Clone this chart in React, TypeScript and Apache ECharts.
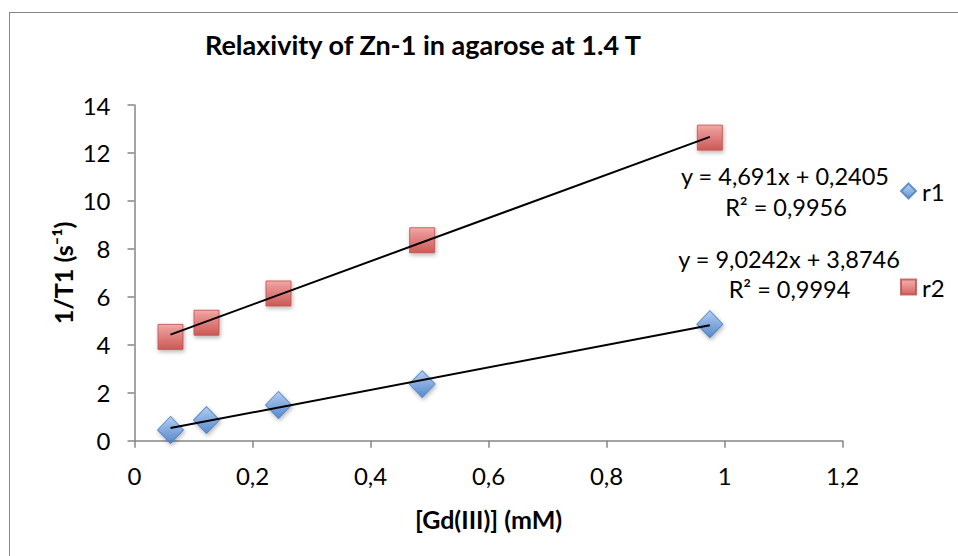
import React, { useEffect, useRef } from "react";
import * as echarts from "echarts";

const concentrations = [0.061, 0.122, 0.244, 0.4875, 0.975];
const r1Values = [0.45, 0.86, 1.49, 2.36, 4.86];
const r2Values = [4.33, 4.92, 6.14, 8.36, 12.64];

const r1Fit = { slope: 4.691, intercept: 0.2405, r2: "0,9956" };
const r2Fit = { slope: 9.0242, intercept: 3.8746, r2: "0,9994" };

const r1EquationLines = ["y = 4,691x + 0,2405", "R² = " + r1Fit.r2];
const r2EquationLines = ["y = 9,0242x + 3,8746", "R² = " + r2Fit.r2];
const yAxisTitle = "1/T1 (s⁻¹)";

const FONT = "Lato, 'Liberation Sans', sans-serif";

function fitLine(fit: { slope: number; intercept: number }) {
  const x0 = concentrations[0];
  const x1 = concentrations[concentrations.length - 1];
  return [
    [x0, fit.slope * x0 + fit.intercept],
    [x1, fit.slope * x1 + fit.intercept],
  ];
}

export default function App() {
  const ref = useRef<HTMLDivElement>(null);
  useEffect(() => {
    if (!ref.current) return;
    document.documentElement.style.overflow = "hidden";
    document.body.style.overflow = "hidden";
    document.body.style.margin = "0";
    const chart = echarts.init(ref.current, undefined, { renderer: "svg" });
    const redGrad = new echarts.graphic.LinearGradient(0, 0, 0, 1, [
      { offset: 0, color: "#f49a98" },
      { offset: 1, color: "#c9403c" },
    ]);
    const blueGrad = new echarts.graphic.LinearGradient(0, 0, 0, 1, [
      { offset: 0, color: "#a7c8f2" },
      { offset: 1, color: "#4079cc" },
    ]);
    const shadow = {
      shadowBlur: 4,
      shadowColor: "rgba(0,0,0,0.35)",
      shadowOffsetY: 2,
      shadowOffsetX: 1,
    };
    const eqText = (text: string, x: number, y: number) => ({
      type: "text",
      x,
      y,
      style: {
        text,
        fill: "#000",
        font: `23.5px ${FONT}`,
        textAlign: "center",
        textVerticalAlign: "middle",
      },
    });
    const legendText = { fontFamily: FONT, fontSize: 24, color: "#000", padding: [0, 0, 0, 1] };
    chart.setOption({
      animation: false,
      backgroundColor: "transparent",
      title: {
        text: "Relaxivity of Zn-1 in agarose at 1.4 T",
        left: 410,
        top: 18,
        textAlign: "center",
        textStyle: { fontFamily: FONT, fontWeight: "bold", fontSize: 27, color: "#000" },
      },
      grid: { left: 126.5, top: 97, right: 115.4, bottom: 115.3, containLabel: false },
      xAxis: {
        type: "value",
        min: 0,
        max: 1.2,
        interval: 0.2,
        name: "[Gd(III)] (mM)",
        nameLocation: "middle",
        nameGap: 66,
        nameTextStyle: { fontFamily: FONT, fontWeight: "bold", fontSize: 25, color: "#000" },
        axisLine: { lineStyle: { color: "#868686", width: 1.5 } },
        axisTick: { show: true, length: 7, lineStyle: { color: "#868686", width: 1.5 } },
        splitLine: { show: false },
        axisLabel: {
          margin: 23,
          fontFamily: FONT,
          fontSize: 24,
          color: "#000",
          formatter: (v: number) => String(Math.round(v * 10) / 10).replace(".", ","),
        },
      },
      yAxis: {
        type: "value",
        min: 0,
        max: 14,
        interval: 2,
        axisLine: { show: true, lineStyle: { color: "#868686", width: 1.5 } },
        axisTick: { show: true, length: 7, lineStyle: { color: "#868686", width: 1.5 } },
        splitLine: { show: false },
        axisLabel: { margin: 24, fontFamily: FONT, fontSize: 24, color: "#000" },
      },
      legend: [
        {
          left: 887,
          top: 166,
          itemWidth: 15,
          itemHeight: 15,
          textStyle: legendText,
          data: [{ name: "r1", icon: "diamond" }],
        },
        {
          left: 887,
          top: 262,
          itemWidth: 15,
          itemHeight: 15,
          textStyle: legendText,
          data: [{ name: "r2", icon: "rect" }],
        },
      ],
      series: [
        {
          name: "r1",
          type: "scatter",
          symbol: "diamond",
          symbolSize: [26, 27],
          data: concentrations.map((x, i) => [x, r1Values[i]]),
          itemStyle: { color: blueGrad, borderColor: "#4a7ebb", borderWidth: 1, ...shadow },
          z: 2,
        },
        {
          name: "r2",
          type: "scatter",
          symbol: "rect",
          symbolSize: [25, 25],
          data: concentrations.map((x, i) => [x, r2Values[i]]),
          itemStyle: { color: redGrad, borderColor: "#be4b48", borderWidth: 1, ...shadow },
          z: 2,
        },
        {
          name: "r1 trend",
          type: "line",
          data: fitLine(r1Fit),
          showSymbol: false,
          symbol: "none",
          lineStyle: { color: "#000", width: 2 },
          z: 5,
        },
        {
          name: "r2 trend",
          type: "line",
          data: fitLine(r2Fit),
          showSymbol: false,
          symbol: "none",
          lineStyle: { color: "#000", width: 2 },
          z: 5,
        },
      ],
      graphic: [
        {
          type: "text",
          x: 55,
          y: 265,
          rotation: Math.PI / 2,
          style: {
            text: yAxisTitle,
            fill: "#000",
            font: `bold 25px ${FONT}`,
            textAlign: "center",
            textVerticalAlign: "middle",
          },
        },
        eqText(r1EquationLines[0], 777, 168),
        eqText(r1EquationLines[1], 778, 199),
        eqText(r2EquationLines[0], 781, 251),
        eqText(r2EquationLines[1], 781.5, 281),
      ],
    });
    return () => chart.dispose();
  }, []);
  return (
    <div style={{ position: "relative", width: 958, height: 556, overflow: "hidden", background: "#fff" }}>
      <div
        style={{
          position: "absolute",
          left: 8.5,
          top: 11.5,
          width: 3000,
          height: 3000,
          borderLeft: "1.5px solid #868686",
          borderTop: "1.5px solid #868686",
        }}
      />
      <div ref={ref} style={{ position: "absolute", left: 8, top: 8, width: 950, height: 548 }} />
    </div>
  );
}
